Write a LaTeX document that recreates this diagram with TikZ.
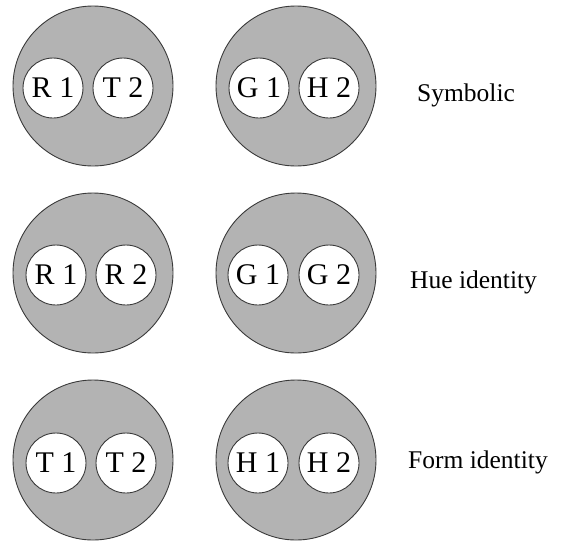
\documentclass[tikz,border=0pt]{standalone}
\usepackage{fontspec}
\setmainfont{Liberation Serif}
\definecolor{discgray}{HTML}{B3B3B3}
\definecolor{rimgray}{HTML}{3A3A3A}
\begin{document}
\begin{tikzpicture}[x=1pt,y=-1pt,
  disc/.style={circle,draw=rimgray,line width=0.9pt,fill=discgray,minimum size=160pt,inner sep=0pt},
  token/.style={circle,draw=rimgray,line width=0.9pt,fill=white,minimum size=60pt,inner sep=0pt,
                font=\fontsize{30}{30}\selectfont},
  caption/.style={anchor=base west,inner sep=0pt,font=\fontsize{25.5}{25.5}\selectfont}]
\useasboundingbox (0,0) rectangle (563,542);

% row 1: symbolic
\node[disc] (d11) at (93,86) {};
\node[disc] (d12) at (296,86) {};
\node[token] (r11) at (53,88) {R 1};
\node[token] (r12) at (123,88) {T 2};
\node[token] (r13) at (259,88) {G 1};
\node[token] (r14) at (329,88) {H 2};
\node[caption] (cap1) at (417,101) {Symbolic};

% row 2: hue identity
\node[disc] (d21) at (93,273) {};
\node[disc] (d22) at (296,273) {};
\node[token] (r21) at (56,275) {R 1};
\node[token] (r22) at (126,275) {R 2};
\node[token] (r23) at (258,275) {G 1};
\node[token] (r24) at (329,275) {G 2};
\node[caption] (cap2) at (410,288) {Hue identity};

% row 3: form identity
\node[disc] (d31) at (93,460) {};
\node[disc] (d32) at (296,460) {};
\node[token] (r31) at (56,463) {T 1};
\node[token] (r32) at (126,463) {T 2};
\node[token] (r33) at (258,463) {H 1};
\node[token] (r34) at (329,463) {H 2};
\node[caption] (cap3) at (408,468) {Form identity};
\end{tikzpicture}
\end{document}
